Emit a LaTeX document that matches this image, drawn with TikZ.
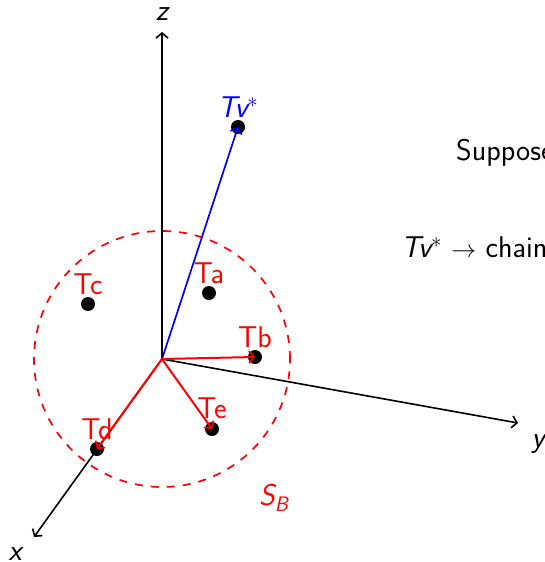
\documentclass[tikz,border=0pt]{standalone}
\usetikzlibrary{arrows.meta}
\begin{document}
\begin{tikzpicture}[x=1pt,y=-1pt,
  txt/.style={font=\fontsize{30}{36}\selectfont\sffamily, inner sep=0pt},
  lbl/.style={txt, text=red, anchor=base},
  dotm/.style={circle, fill=black, inner sep=0pt, minimum size=14pt},
  tip/.style={-{Straight Barb[length=5pt, width=12pt, line width=1.6pt]}},
  axis/.style={line width=1.6pt, tip},
  vec/.style={line width=2pt, tip, red}]
\useasboundingbox (0,0) rectangle (545,562);
\coordinate (o) at (162,359);
\coordinate (zend) at (162,32);
\coordinate (yend) at (518,423);
\coordinate (xend) at (34,537);
% sphere
\node[draw=red, line width=1.7pt, dash pattern=on 8pt off 8pt, circle, inner sep=0pt, minimum size=256pt] (sb) at (o) {};
% axes
\draw[axis] (o) -- (zend);
\draw[axis] (o) -- (yend);
\draw[axis] (o) -- (xend);
\node[txt, anchor=base] (zl) at (162,20) {\itshape z};
\node[txt, anchor=base] (yl) at (538,447) {\itshape y};
\node[txt, anchor=base] (xl) at (15,560) {\itshape x};
% dots
\node[dotm] (tv) at (238,127) {};
\node[dotm] (ta) at (209,293) {};
\node[dotm] (tb) at (255,357) {};
\node[dotm] (tc) at (88,304) {};
\node[dotm] (td) at (97,449) {};
\node[dotm] (te) at (212,429) {};
% vectors
\draw[line width=1.7pt, tip, blue] (o) -- (tv.center);
\draw[vec] (o) -- (tb.center);
\draw[vec] (o) -- (td.center);
\draw[vec] (o) -- (te.center);
% labels
\node[lbl, text=blue] (tvl) at ([yshift=10pt]tv.center) {{\itshape Tv}$^{*}$};
\node[lbl] (tal) at ([yshift=10pt]ta.center) {Ta};
\node[lbl] (tbl) at ([yshift=10pt]tb.center) {Tb};
\node[lbl] (tcl) at ([yshift=10pt]tc.center) {Tc};
\node[lbl] (tdl) at ([yshift=10pt]td.center) {Td};
\node[lbl] (tel) at ([yshift=11pt]te.center) {Te};
\node[lbl, anchor=base west] (sbl) at (259,505) {{\itshape S}\textsubscript{\itshape B}};
% text
\node[txt, anchor=base west] (t1) at (456,160) {Suppose};
\node[txt, anchor=base west] (t2) at (401,257) {{\itshape Tv}$^{*}$ $\rightarrow$ chain};
\end{tikzpicture}
\end{document}
